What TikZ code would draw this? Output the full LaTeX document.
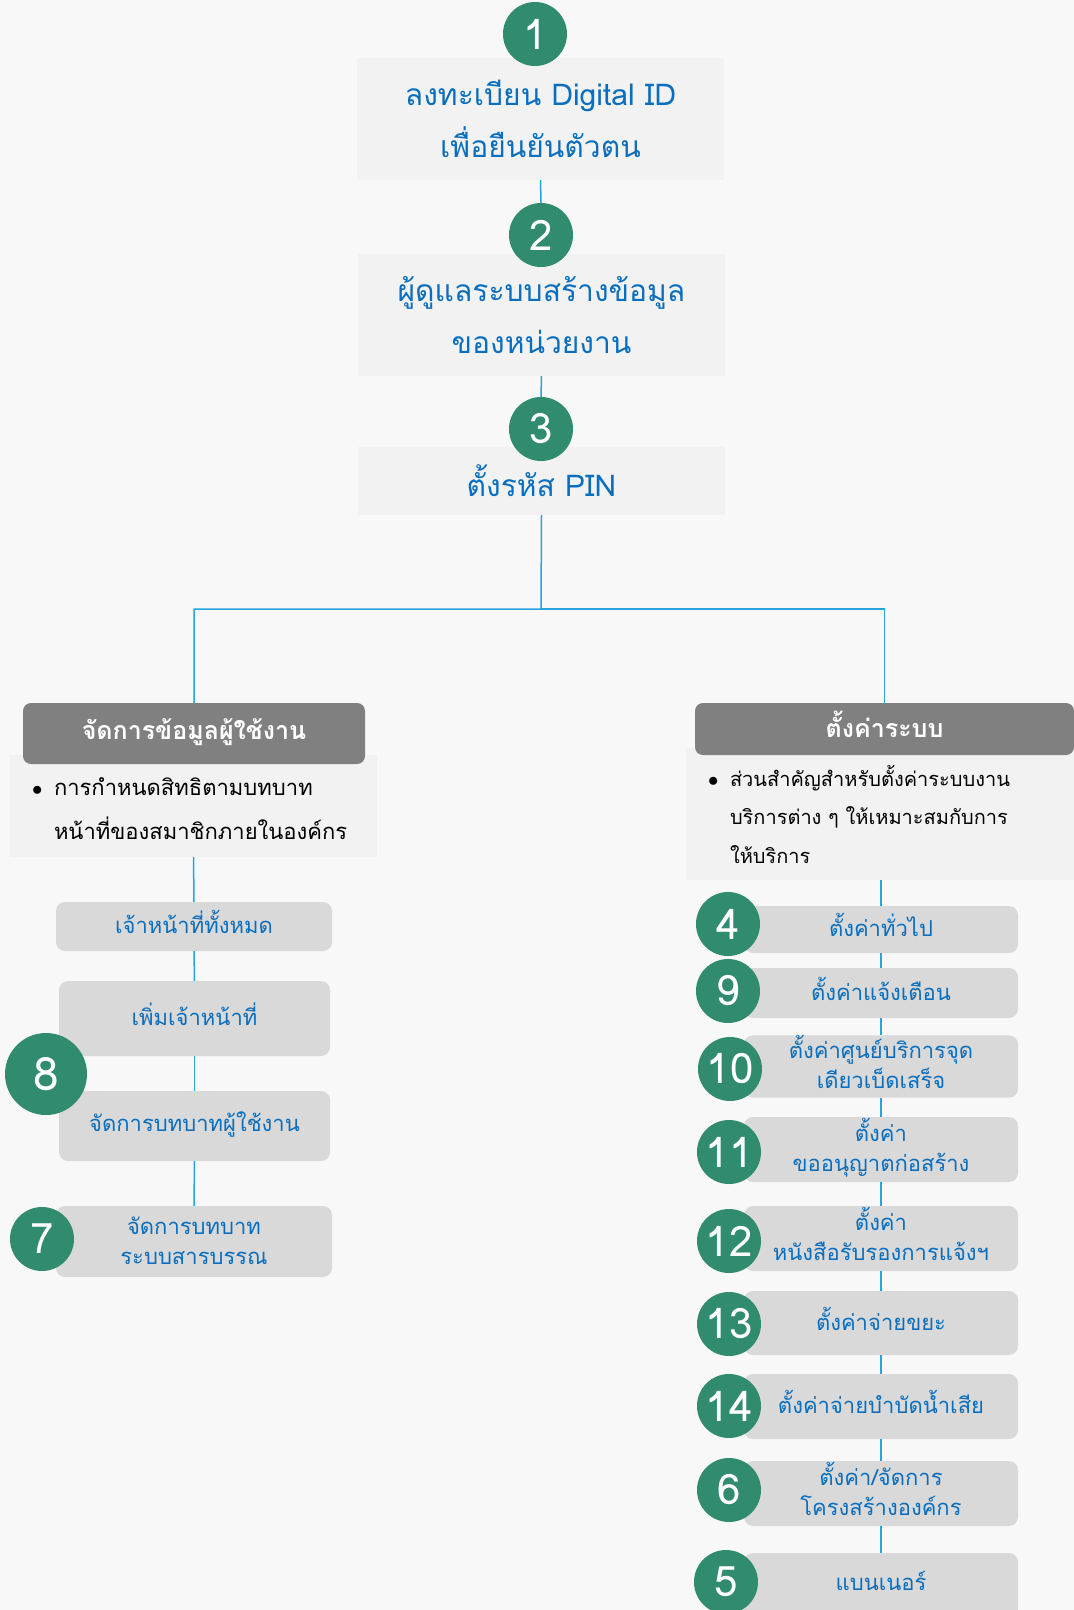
\documentclass[tikz,border=0pt]{standalone}
\usepackage{fontspec}
\setmainfont[Script=Thai]{Loma}
\definecolor{pagebg}{RGB}{248,248,248}
\definecolor{boxlight}{RGB}{242,242,242}
\definecolor{boxgray}{RGB}{217,217,217}
\definecolor{headgray}{RGB}{128,128,128}
\definecolor{numgreen}{RGB}{49,139,110}
\definecolor{textblue}{RGB}{10,110,190}
\definecolor{linkblue}{RGB}{41,163,220}
\newcommand{\lowstrut}{\rule[-9pt]{0pt}{0pt}}

\begin{document}
\begin{tikzpicture}[x=1pt,y=-1pt,
	stepnum/.style={circle,fill=numgreen,text=white,minimum size=64pt,inner sep=0pt,font=\fontsize{42}{42}\selectfont},
	topbox/.style={fill=boxlight,text=textblue,minimum width=367pt,inner sep=0pt,align=center,font=\fontsize{30}{52}\selectfont},
	headbox/.style={fill=headgray,rounded corners=8pt,text=white,inner sep=0pt,font=\bfseries\fontsize{25}{25}\selectfont,execute at end node=\lowstrut},
	descbox/.style={fill=boxlight,inner sep=0pt,align=left},
	itembox/.style={fill=boxgray,rounded corners=9pt,text=textblue,inner sep=0pt,align=center,font=\fontsize{22}{30}\selectfont,execute at end node=\lowstrut},
	link/.style={draw=linkblue,line width=1.5pt}]
	%\draw [help lines] (0,0) grid (1074,1610);
	\fill[pagebg] (0,0) rectangle (1074,1610);
	\useasboundingbox (0,0) rectangle (1074,1610);
	% top chain
	\node[topbox,minimum height=122pt] (reg) at (540.5,119) {ลงทะเบียน Digital ID\\เพื่อยืนยันตัวตน};
	\node[topbox,minimum height=122pt] (admin) at (541.5,315) {ผู้ดูแลระบบสร้างข้อมูล\\ของหน่วยงาน};
	\node[topbox,minimum height=68pt] (pin) at (541.5,481) {ตั้งรหัส PIN};
	\node[stepnum] (n1) at (535,34) {1};
	\node[stepnum] (n2) at (541,235) {2};
	\node[stepnum] (n3) at (541,429) {3};
	\draw[link] (reg.south) -- (n2.north);
	\draw[link] (admin.south) -- (n3.north);
	\coordinate (split) at (541,609);
	\draw[link] (pin.south) -- (split) -| (194,703);
	\draw[link] (split) -| (884.5,703);
	% left branch
	\node[descbox,minimum width=367pt,minimum height=102pt,text width=367pt,font=\fontsize{22}{44}\selectfont] (usrdesc) at (193.5,806)
		{\rule{0pt}{24pt}\hspace*{22pt}\makebox[22pt][l]{$\bullet$}การกำหนดสิทธิตามบทบาท\\\hspace*{44pt}หน้าที่ของสมาชิกภายในองค์กร};
	\node[headbox,minimum width=342pt,minimum height=61pt] (usrhead) at (194,733.5) {จัดการข้อมูลผู้ใช้งาน};
	\node[itembox,minimum width=276pt,minimum height=49pt] (allstaff) at (194,926.5) {เจ้าหน้าที่ทั้งหมด};
	\node[itembox,minimum width=271pt,minimum height=75pt] (addstaff) at (194.5,1018.5) {เพิ่มเจ้าหน้าที่};
	\node[itembox,minimum width=271pt,minimum height=70pt] (userrole) at (194.5,1126) {จัดการบทบาทผู้ใช้งาน};
	\node[itembox,minimum width=276pt,minimum height=71pt] (docrole) at (194,1241.5) {\rule{0pt}{25pt}จัดการบทบาท\\ระบบสารบรรณ};
	\node[stepnum,minimum size=82pt,font=\fontsize{46}{46}\selectfont] (n8) at (46,1074) {8};
	\node[stepnum] (n7) at (42,1239) {7};
	\draw[link] (usrdesc.south) -- (allstaff.north);
	\draw[link] (allstaff.south) -- (addstaff.north);
	\draw[link] (addstaff.south) -- (userrole.north);
	\draw[link] (userrole.south) -- (docrole.north);
	% right branch
	\node[descbox,minimum width=388pt,minimum height=132pt,text width=388pt,font=\fontsize{20}{38.5}\selectfont] (sysdesc) at (880,814)
		{\hspace*{22pt}\makebox[22pt][l]{$\bullet$}ส่วนสำคัญสำหรับตั้งค่าระบบงาน\\\hspace*{44pt}บริการต่าง ๆ ให้เหมาะสมกับการ\\\hspace*{44pt}ให้บริการ};
	\node[headbox,minimum width=379pt,minimum height=52pt] (syshead) at (884.5,729) {ตั้งค่าระบบ};
	\node[itembox,minimum width=274pt,minimum height=47pt] (general) at (881,929.5) {ตั้งค่าทั่วไป};
	\node[itembox,minimum width=274pt,minimum height=50pt] (alert) at (881,993) {ตั้งค่าแจ้งเตือน};
	\node[itembox,minimum width=274pt,minimum height=61pt] (onestop) at (881,1066.5) {ตั้งค่าศูนย์บริการจุด\\เดียวเบ็ดเสร็จ};
	\node[itembox,minimum width=274pt,minimum height=65pt] (permit) at (881,1149.5) {ตั้งค่า\\ขออนุญาตก่อสร้าง};
	\node[itembox,minimum width=274pt,minimum height=65pt] (certify) at (881,1238.5) {ตั้งค่า\\หนังสือรับรองการแจ้งฯ};
	\node[itembox,minimum width=274pt,minimum height=64pt] (waste) at (881,1323) {ตั้งค่าจ่ายขยะ};
	\node[itembox,minimum width=274pt,minimum height=65pt] (water) at (881,1406.5) {ตั้งค่าจ่ายบำบัดน้ำเสีย};
	\node[itembox,minimum width=274pt,minimum height=65pt] (orgchart) at (881,1493.5) {ตั้งค่า/จัดการ\\โครงสร้างองค์กร};
	\node[itembox,minimum width=274pt,minimum height=65pt] (banner) at (881,1585.5) {แบนเนอร์};
	\node[stepnum] (n4) at (728,924) {4};
	\node[stepnum] (n9) at (728,991) {9};
	\node[stepnum] (n10) at (730,1069) {10};
	\node[stepnum] (n11) at (729,1152) {11};
	\node[stepnum] (n12) at (729,1241) {12};
	\node[stepnum] (n13) at (729,1324) {13};
	\node[stepnum] (n14) at (729,1406) {14};
	\node[stepnum] (n6) at (729,1490) {6};
	\node[stepnum] (n5) at (726,1582) {5};
	\draw[link] (general.north |- sysdesc.south) -- (general.north);
	\draw[link] (general.south) -- (alert.north);
	\draw[link] (alert.south) -- (onestop.north);
	\draw[link] (onestop.south) -- (permit.north);
	\draw[link] (permit.south) -- (certify.north);
	\draw[link] (certify.south) -- (waste.north);
	\draw[link] (waste.south) -- (water.north);
	\draw[link] (water.south) -- (orgchart.north);
	\draw[link] (orgchart.south) -- (banner.north);
\end{tikzpicture}
\end{document}
